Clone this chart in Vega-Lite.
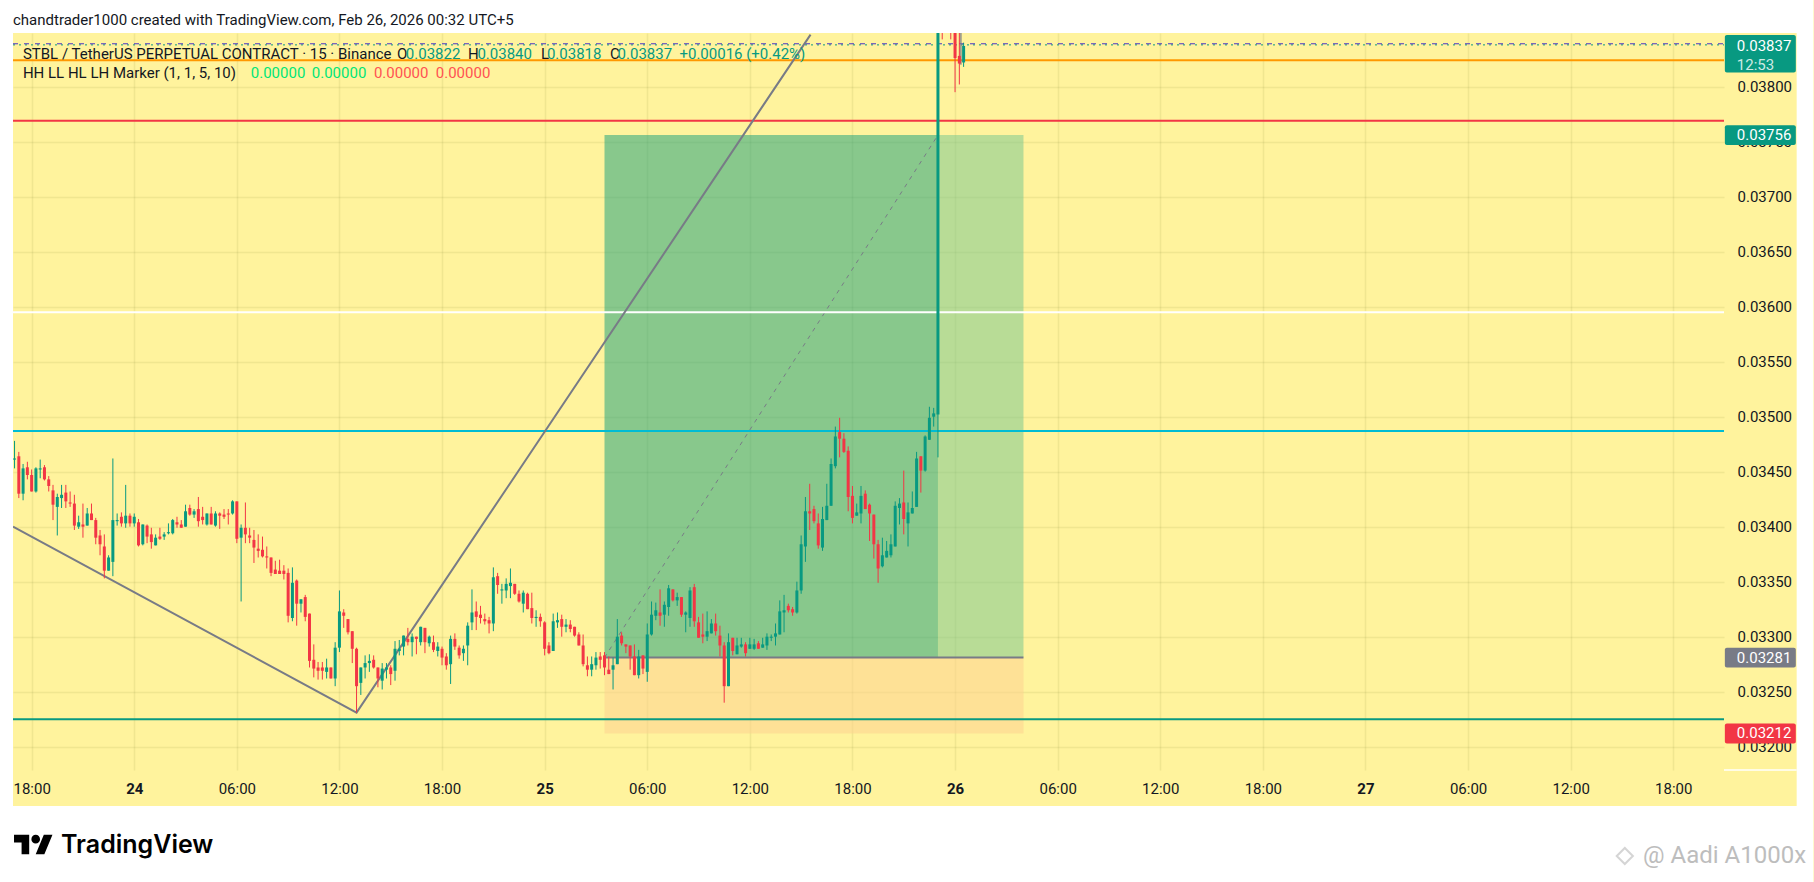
{
  "$schema": "https://vega.github.io/schema/vega-lite/v6.json",
  "width": 1711,
  "height": 737,
  "autosize": "none",
  "padding": {"left": 13, "top": 33, "right": 90, "bottom": 112},
  "background": "#fff39d",
  "view": {"stroke": null},
  "datasets": {
    "zones": [
      {"t": "2026-02-25T03:30:00Z", "t2": "2026-02-25T23:00:00Z", "p": 0.03281, "p2": 0.03756, "zone": "profit"},
      {"t": "2026-02-25T23:00:00Z", "t2": "2026-02-26T04:00:00Z", "p": 0.03281, "p2": 0.03756, "zone": "profit after"},
      {"t": "2026-02-25T03:30:00Z", "t2": "2026-02-26T04:00:00Z", "p": 0.03212, "p2": 0.03281, "zone": "stop"}
    ],
    "levels": [
      {"t": "2026-02-23T16:54:36Z", "t2": "2026-02-27T20:58:00Z", "p": 0.03824, "level": "orange"},
      {"t": "2026-02-23T16:54:36Z", "t2": "2026-02-27T20:58:00Z", "p": 0.03769, "level": "red"},
      {"t": "2026-02-23T16:54:36Z", "t2": "2026-02-27T20:58:00Z", "p": 0.03595, "level": "white"},
      {"t": "2026-02-23T16:54:36Z", "t2": "2026-02-27T20:58:00Z", "p": 0.03487, "level": "cyan"},
      {"t": "2026-02-23T16:54:36Z", "t2": "2026-02-27T20:58:00Z", "p": 0.03225, "level": "green"},
      {"t": "2026-02-25T03:30:00Z", "t2": "2026-02-26T04:00:00Z", "p": 0.03281, "level": "entry"}
    ],
    "candles": [
      {"t":"2026-02-23T17:00:00Z","o":0.03461,"h":0.03478,"l":0.03453,"c":0.03462},
      {"t":"2026-02-23T17:15:00Z","o":0.03464,"h":0.03468,"l":0.03426,"c":0.0343},
      {"t":"2026-02-23T17:30:00Z","o":0.0343,"h":0.03457,"l":0.03424,"c":0.03453},
      {"t":"2026-02-23T17:45:00Z","o":0.03454,"h":0.03459,"l":0.03443,"c":0.03447},
      {"t":"2026-02-23T18:00:00Z","o":0.03447,"h":0.03452,"l":0.03432,"c":0.03432},
      {"t":"2026-02-23T18:15:00Z","o":0.03432,"h":0.03454,"l":0.03431,"c":0.03453},
      {"t":"2026-02-23T18:30:00Z","o":0.03452,"h":0.03461,"l":0.03444,"c":0.03453},
      {"t":"2026-02-23T18:45:00Z","o":0.03454,"h":0.03456,"l":0.03442,"c":0.03443},
      {"t":"2026-02-23T19:00:00Z","o":0.03443,"h":0.03446,"l":0.03432,"c":0.03437},
      {"t":"2026-02-23T19:15:00Z","o":0.03433,"h":0.03438,"l":0.03406,"c":0.0342},
      {"t":"2026-02-23T19:30:00Z","o":0.03418,"h":0.0343,"l":0.03392,"c":0.03427},
      {"t":"2026-02-23T19:45:00Z","o":0.03426,"h":0.03438,"l":0.03417,"c":0.03429},
      {"t":"2026-02-23T20:00:00Z","o":0.03431,"h":0.03438,"l":0.03417,"c":0.03423},
      {"t":"2026-02-23T20:15:00Z","o":0.03422,"h":0.03432,"l":0.03418,"c":0.03421},
      {"t":"2026-02-23T20:30:00Z","o":0.03421,"h":0.03429,"l":0.03397,"c":0.03401},
      {"t":"2026-02-23T20:45:00Z","o":0.034,"h":0.0341,"l":0.03398,"c":0.03404},
      {"t":"2026-02-23T21:00:00Z","o":0.03402,"h":0.03421,"l":0.0339,"c":0.034},
      {"t":"2026-02-23T21:15:00Z","o":0.03401,"h":0.03417,"l":0.03401,"c":0.03412},
      {"t":"2026-02-23T21:30:00Z","o":0.03412,"h":0.03421,"l":0.03406,"c":0.03406},
      {"t":"2026-02-23T21:45:00Z","o":0.03406,"h":0.03408,"l":0.03384,"c":0.0339},
      {"t":"2026-02-23T22:00:00Z","o":0.03392,"h":0.03397,"l":0.03374,"c":0.03384},
      {"t":"2026-02-23T22:15:00Z","o":0.03382,"h":0.03393,"l":0.03353,"c":0.0336},
      {"t":"2026-02-23T22:30:00Z","o":0.0336,"h":0.03374,"l":0.0336,"c":0.03372},
      {"t":"2026-02-23T22:45:00Z","o":0.03368,"h":0.03462,"l":0.03355,"c":0.03406},
      {"t":"2026-02-23T23:00:00Z","o":0.03405,"h":0.03412,"l":0.03401,"c":0.03406},
      {"t":"2026-02-23T23:15:00Z","o":0.03409,"h":0.03413,"l":0.034,"c":0.03403},
      {"t":"2026-02-23T23:30:00Z","o":0.03403,"h":0.03438,"l":0.03399,"c":0.0341},
      {"t":"2026-02-23T23:45:00Z","o":0.0341,"h":0.03412,"l":0.034,"c":0.03403},
      {"t":"2026-02-24T00:00:00Z","o":0.03403,"h":0.03412,"l":0.034,"c":0.03409},
      {"t":"2026-02-24T00:15:00Z","o":0.03404,"h":0.03407,"l":0.03382,"c":0.03383},
      {"t":"2026-02-24T00:30:00Z","o":0.03384,"h":0.03402,"l":0.03383,"c":0.03402},
      {"t":"2026-02-24T00:45:00Z","o":0.03401,"h":0.03402,"l":0.03385,"c":0.03391},
      {"t":"2026-02-24T01:00:00Z","o":0.03393,"h":0.03399,"l":0.0338,"c":0.03386},
      {"t":"2026-02-24T01:15:00Z","o":0.03383,"h":0.03393,"l":0.03383,"c":0.0339},
      {"t":"2026-02-24T01:30:00Z","o":0.03391,"h":0.03399,"l":0.03388,"c":0.03389},
      {"t":"2026-02-24T01:45:00Z","o":0.03391,"h":0.03395,"l":0.03388,"c":0.03393},
      {"t":"2026-02-24T02:00:00Z","o":0.03394,"h":0.03403,"l":0.03393,"c":0.03395},
      {"t":"2026-02-24T02:15:00Z","o":0.03394,"h":0.03407,"l":0.03393,"c":0.03406},
      {"t":"2026-02-24T02:30:00Z","o":0.03404,"h":0.03409,"l":0.03399,"c":0.03402},
      {"t":"2026-02-24T02:45:00Z","o":0.03402,"h":0.03406,"l":0.03399,"c":0.03399},
      {"t":"2026-02-24T03:00:00Z","o":0.034,"h":0.0342,"l":0.034,"c":0.03414},
      {"t":"2026-02-24T03:15:00Z","o":0.03417,"h":0.0342,"l":0.0341,"c":0.03411},
      {"t":"2026-02-24T03:30:00Z","o":0.03411,"h":0.03416,"l":0.03408,"c":0.03414},
      {"t":"2026-02-24T03:45:00Z","o":0.03416,"h":0.03427,"l":0.034,"c":0.03405},
      {"t":"2026-02-24T04:00:00Z","o":0.03409,"h":0.03418,"l":0.03402,"c":0.03406},
      {"t":"2026-02-24T04:15:00Z","o":0.03402,"h":0.03412,"l":0.03401,"c":0.03412},
      {"t":"2026-02-24T04:30:00Z","o":0.03412,"h":0.03418,"l":0.03402,"c":0.03402},
      {"t":"2026-02-24T04:45:00Z","o":0.03401,"h":0.03414,"l":0.034,"c":0.03412},
      {"t":"2026-02-24T05:00:00Z","o":0.03412,"h":0.03413,"l":0.03398,"c":0.0341},
      {"t":"2026-02-24T05:15:00Z","o":0.03411,"h":0.03416,"l":0.03407,"c":0.03409},
      {"t":"2026-02-24T05:30:00Z","o":0.03412,"h":0.03416,"l":0.03402,"c":0.03411},
      {"t":"2026-02-24T05:45:00Z","o":0.03412,"h":0.03424,"l":0.03411,"c":0.03423},
      {"t":"2026-02-24T06:00:00Z","o":0.03423,"h":0.03423,"l":0.03385,"c":0.03389},
      {"t":"2026-02-24T06:15:00Z","o":0.0339,"h":0.03402,"l":0.03332,"c":0.03399},
      {"t":"2026-02-24T06:30:00Z","o":0.03399,"h":0.03422,"l":0.03385,"c":0.03393},
      {"t":"2026-02-24T06:45:00Z","o":0.03392,"h":0.03399,"l":0.03385,"c":0.0339},
      {"t":"2026-02-24T07:00:00Z","o":0.03388,"h":0.03397,"l":0.03367,"c":0.03381},
      {"t":"2026-02-24T07:15:00Z","o":0.0338,"h":0.03393,"l":0.03372,"c":0.03378},
      {"t":"2026-02-24T07:30:00Z","o":0.03379,"h":0.03391,"l":0.03372,"c":0.03373},
      {"t":"2026-02-24T07:45:00Z","o":0.03373,"h":0.03382,"l":0.03362,"c":0.03372},
      {"t":"2026-02-24T08:00:00Z","o":0.03372,"h":0.03372,"l":0.03355,"c":0.03358},
      {"t":"2026-02-24T08:15:00Z","o":0.03361,"h":0.03369,"l":0.03357,"c":0.03357},
      {"t":"2026-02-24T08:30:00Z","o":0.0336,"h":0.0337,"l":0.03357,"c":0.03357},
      {"t":"2026-02-24T08:45:00Z","o":0.0336,"h":0.03365,"l":0.03352,"c":0.03357},
      {"t":"2026-02-24T09:00:00Z","o":0.03358,"h":0.03362,"l":0.03313,"c":0.03319},
      {"t":"2026-02-24T09:15:00Z","o":0.03317,"h":0.03363,"l":0.03314,"c":0.03349},
      {"t":"2026-02-24T09:30:00Z","o":0.03351,"h":0.03352,"l":0.0331,"c":0.0333},
      {"t":"2026-02-24T09:45:00Z","o":0.0333,"h":0.03334,"l":0.03322,"c":0.03334},
      {"t":"2026-02-24T10:00:00Z","o":0.03336,"h":0.03338,"l":0.03314,"c":0.03318},
      {"t":"2026-02-24T10:15:00Z","o":0.03321,"h":0.03321,"l":0.03272,"c":0.03278},
      {"t":"2026-02-24T10:30:00Z","o":0.03279,"h":0.03293,"l":0.03263,"c":0.03271},
      {"t":"2026-02-24T10:45:00Z","o":0.03272,"h":0.03277,"l":0.03261,"c":0.03269},
      {"t":"2026-02-24T11:00:00Z","o":0.03272,"h":0.03277,"l":0.03261,"c":0.03269},
      {"t":"2026-02-24T11:15:00Z","o":0.03268,"h":0.0328,"l":0.03262,"c":0.03272},
      {"t":"2026-02-24T11:30:00Z","o":0.03272,"h":0.03272,"l":0.03262,"c":0.03262},
      {"t":"2026-02-24T11:45:00Z","o":0.03262,"h":0.03295,"l":0.03255,"c":0.0329},
      {"t":"2026-02-24T12:00:00Z","o":0.0329,"h":0.03342,"l":0.03286,"c":0.03323},
      {"t":"2026-02-24T12:15:00Z","o":0.03322,"h":0.03325,"l":0.03308,"c":0.03319},
      {"t":"2026-02-24T12:30:00Z","o":0.03316,"h":0.03316,"l":0.03302,"c":0.03304},
      {"t":"2026-02-24T12:45:00Z","o":0.03305,"h":0.03305,"l":0.03276,"c":0.03289},
      {"t":"2026-02-24T13:00:00Z","o":0.03289,"h":0.0329,"l":0.03231,"c":0.03255},
      {"t":"2026-02-24T13:15:00Z","o":0.03258,"h":0.03272,"l":0.03247,"c":0.03272},
      {"t":"2026-02-24T13:30:00Z","o":0.03272,"h":0.03283,"l":0.03262,"c":0.03276},
      {"t":"2026-02-24T13:45:00Z","o":0.03276,"h":0.03284,"l":0.03268,"c":0.03278},
      {"t":"2026-02-24T14:00:00Z","o":0.03279,"h":0.03283,"l":0.03271,"c":0.03272},
      {"t":"2026-02-24T14:15:00Z","o":0.03272,"h":0.03272,"l":0.03254,"c":0.03262},
      {"t":"2026-02-24T14:30:00Z","o":0.0326,"h":0.03276,"l":0.03252,"c":0.03271},
      {"t":"2026-02-24T14:45:00Z","o":0.0327,"h":0.03276,"l":0.03262,"c":0.03272},
      {"t":"2026-02-24T15:00:00Z","o":0.03272,"h":0.03274,"l":0.03256,"c":0.03266},
      {"t":"2026-02-24T15:15:00Z","o":0.03269,"h":0.03296,"l":0.0326,"c":0.03289},
      {"t":"2026-02-24T15:30:00Z","o":0.03287,"h":0.03297,"l":0.03283,"c":0.03289},
      {"t":"2026-02-24T15:45:00Z","o":0.03291,"h":0.03301,"l":0.03283,"c":0.03301},
      {"t":"2026-02-24T16:00:00Z","o":0.03298,"h":0.03308,"l":0.03292,"c":0.03295},
      {"t":"2026-02-24T16:15:00Z","o":0.03295,"h":0.03303,"l":0.03282,"c":0.033},
      {"t":"2026-02-24T16:30:00Z","o":0.033,"h":0.033,"l":0.03284,"c":0.03298},
      {"t":"2026-02-24T16:45:00Z","o":0.03295,"h":0.03309,"l":0.03292,"c":0.03309},
      {"t":"2026-02-24T17:00:00Z","o":0.03308,"h":0.03308,"l":0.03285,"c":0.03295},
      {"t":"2026-02-24T17:15:00Z","o":0.03294,"h":0.03301,"l":0.03291,"c":0.033},
      {"t":"2026-02-24T17:30:00Z","o":0.03295,"h":0.03301,"l":0.03286,"c":0.03288},
      {"t":"2026-02-24T17:45:00Z","o":0.03287,"h":0.03295,"l":0.03282,"c":0.03291},
      {"t":"2026-02-24T18:00:00Z","o":0.03289,"h":0.03291,"l":0.03274,"c":0.03281},
      {"t":"2026-02-24T18:15:00Z","o":0.03282,"h":0.03285,"l":0.0327,"c":0.03274},
      {"t":"2026-02-24T18:30:00Z","o":0.03275,"h":0.03301,"l":0.03257,"c":0.03298},
      {"t":"2026-02-24T18:45:00Z","o":0.03298,"h":0.03303,"l":0.03288,"c":0.03291},
      {"t":"2026-02-24T19:00:00Z","o":0.0329,"h":0.03292,"l":0.0328,"c":0.03283},
      {"t":"2026-02-24T19:15:00Z","o":0.03285,"h":0.03292,"l":0.03278,"c":0.03289},
      {"t":"2026-02-24T19:30:00Z","o":0.03292,"h":0.03313,"l":0.03274,"c":0.0331},
      {"t":"2026-02-24T19:45:00Z","o":0.03313,"h":0.03343,"l":0.03306,"c":0.03322},
      {"t":"2026-02-24T20:00:00Z","o":0.03323,"h":0.03332,"l":0.03306,"c":0.03318},
      {"t":"2026-02-24T20:15:00Z","o":0.0332,"h":0.03328,"l":0.03312,"c":0.03317},
      {"t":"2026-02-24T20:30:00Z","o":0.03316,"h":0.03321,"l":0.03311,"c":0.03314},
      {"t":"2026-02-24T20:45:00Z","o":0.03315,"h":0.03318,"l":0.03303,"c":0.03312},
      {"t":"2026-02-24T21:00:00Z","o":0.03312,"h":0.03363,"l":0.03305,"c":0.03354},
      {"t":"2026-02-24T21:15:00Z","o":0.03355,"h":0.03358,"l":0.03339,"c":0.03347},
      {"t":"2026-02-24T21:30:00Z","o":0.03342,"h":0.03348,"l":0.0333,"c":0.03343},
      {"t":"2026-02-24T21:45:00Z","o":0.03342,"h":0.03353,"l":0.03335,"c":0.03348},
      {"t":"2026-02-24T22:00:00Z","o":0.03346,"h":0.03362,"l":0.03335,"c":0.03349},
      {"t":"2026-02-24T22:15:00Z","o":0.03348,"h":0.03348,"l":0.03338,"c":0.03339},
      {"t":"2026-02-24T22:30:00Z","o":0.03339,"h":0.03342,"l":0.03331,"c":0.03332},
      {"t":"2026-02-24T22:45:00Z","o":0.0333,"h":0.03342,"l":0.03322,"c":0.0334},
      {"t":"2026-02-24T23:00:00Z","o":0.03339,"h":0.0334,"l":0.03325,"c":0.03325},
      {"t":"2026-02-24T23:15:00Z","o":0.03326,"h":0.0334,"l":0.03312,"c":0.03317},
      {"t":"2026-02-24T23:30:00Z","o":0.03317,"h":0.03324,"l":0.03309,"c":0.03318},
      {"t":"2026-02-24T23:45:00Z","o":0.03318,"h":0.03321,"l":0.03309,"c":0.03314},
      {"t":"2026-02-25T00:00:00Z","o":0.03313,"h":0.03314,"l":0.03283,"c":0.03289},
      {"t":"2026-02-25T00:15:00Z","o":0.03292,"h":0.03295,"l":0.03284,"c":0.03285},
      {"t":"2026-02-25T00:30:00Z","o":0.03287,"h":0.03321,"l":0.03287,"c":0.03314},
      {"t":"2026-02-25T00:45:00Z","o":0.03313,"h":0.03322,"l":0.03308,"c":0.03315},
      {"t":"2026-02-25T01:00:00Z","o":0.03316,"h":0.0332,"l":0.033,"c":0.03309},
      {"t":"2026-02-25T01:15:00Z","o":0.03309,"h":0.03316,"l":0.03304,"c":0.03311},
      {"t":"2026-02-25T01:30:00Z","o":0.03311,"h":0.03315,"l":0.03304,"c":0.03307},
      {"t":"2026-02-25T01:45:00Z","o":0.03309,"h":0.03309,"l":0.033,"c":0.03301},
      {"t":"2026-02-25T02:00:00Z","o":0.03302,"h":0.03304,"l":0.03292,"c":0.03292},
      {"t":"2026-02-25T02:15:00Z","o":0.03292,"h":0.03302,"l":0.03273,"c":0.03275},
      {"t":"2026-02-25T02:30:00Z","o":0.03274,"h":0.03282,"l":0.03264,"c":0.0327},
      {"t":"2026-02-25T02:45:00Z","o":0.0327,"h":0.03282,"l":0.03264,"c":0.03275},
      {"t":"2026-02-25T03:00:00Z","o":0.03274,"h":0.03286,"l":0.0327,"c":0.03281},
      {"t":"2026-02-25T03:15:00Z","o":0.03282,"h":0.03286,"l":0.03271,"c":0.03279},
      {"t":"2026-02-25T03:30:00Z","o":0.03283,"h":0.03286,"l":0.03265,"c":0.03272},
      {"t":"2026-02-25T03:45:00Z","o":0.0327,"h":0.03282,"l":0.03266,"c":0.03266},
      {"t":"2026-02-25T04:00:00Z","o":0.0327,"h":0.03281,"l":0.03252,"c":0.03274},
      {"t":"2026-02-25T04:15:00Z","o":0.03275,"h":0.03316,"l":0.03275,"c":0.033},
      {"t":"2026-02-25T04:30:00Z","o":0.03301,"h":0.03304,"l":0.03292,"c":0.03294},
      {"t":"2026-02-25T04:45:00Z","o":0.03293,"h":0.03293,"l":0.03285,"c":0.03291},
      {"t":"2026-02-25T05:00:00Z","o":0.03292,"h":0.03292,"l":0.0327,"c":0.03282},
      {"t":"2026-02-25T05:15:00Z","o":0.03282,"h":0.03293,"l":0.03265,"c":0.03265},
      {"t":"2026-02-25T05:30:00Z","o":0.03265,"h":0.03288,"l":0.03262,"c":0.03282},
      {"t":"2026-02-25T05:45:00Z","o":0.03283,"h":0.03283,"l":0.03266,"c":0.03271},
      {"t":"2026-02-25T06:00:00Z","o":0.03268,"h":0.03312,"l":0.03259,"c":0.03302},
      {"t":"2026-02-25T06:15:00Z","o":0.03302,"h":0.03332,"l":0.03301,"c":0.0332},
      {"t":"2026-02-25T06:30:00Z","o":0.03319,"h":0.03331,"l":0.03315,"c":0.03324},
      {"t":"2026-02-25T06:45:00Z","o":0.03322,"h":0.03343,"l":0.0331,"c":0.03319},
      {"t":"2026-02-25T07:00:00Z","o":0.0332,"h":0.03332,"l":0.03309,"c":0.03329},
      {"t":"2026-02-25T07:15:00Z","o":0.03327,"h":0.03347,"l":0.03319,"c":0.03344},
      {"t":"2026-02-25T07:30:00Z","o":0.03343,"h":0.03343,"l":0.03332,"c":0.03333},
      {"t":"2026-02-25T07:45:00Z","o":0.03333,"h":0.0334,"l":0.03328,"c":0.03336},
      {"t":"2026-02-25T08:00:00Z","o":0.03336,"h":0.03336,"l":0.03318,"c":0.0332},
      {"t":"2026-02-25T08:15:00Z","o":0.0332,"h":0.03323,"l":0.03304,"c":0.03322},
      {"t":"2026-02-25T08:30:00Z","o":0.03317,"h":0.03345,"l":0.03309,"c":0.03342},
      {"t":"2026-02-25T08:45:00Z","o":0.03345,"h":0.03348,"l":0.03309,"c":0.03314},
      {"t":"2026-02-25T09:00:00Z","o":0.03313,"h":0.03318,"l":0.03299,"c":0.03299},
      {"t":"2026-02-25T09:15:00Z","o":0.03302,"h":0.03321,"l":0.03294,"c":0.033},
      {"t":"2026-02-25T09:30:00Z","o":0.033,"h":0.03323,"l":0.03296,"c":0.03305},
      {"t":"2026-02-25T09:45:00Z","o":0.03303,"h":0.03316,"l":0.03303,"c":0.03312},
      {"t":"2026-02-25T10:00:00Z","o":0.03312,"h":0.03321,"l":0.03301,"c":0.03305},
      {"t":"2026-02-25T10:15:00Z","o":0.03301,"h":0.0331,"l":0.03282,"c":0.03292},
      {"t":"2026-02-25T10:30:00Z","o":0.03292,"h":0.03295,"l":0.0324,"c":0.03255},
      {"t":"2026-02-25T10:45:00Z","o":0.03255,"h":0.03303,"l":0.03255,"c":0.03295},
      {"t":"2026-02-25T11:00:00Z","o":0.03299,"h":0.03299,"l":0.03283,"c":0.03287},
      {"t":"2026-02-25T11:15:00Z","o":0.03284,"h":0.03299,"l":0.03284,"c":0.03292},
      {"t":"2026-02-25T11:30:00Z","o":0.03291,"h":0.03299,"l":0.0329,"c":0.03293},
      {"t":"2026-02-25T11:45:00Z","o":0.03293,"h":0.03295,"l":0.03282,"c":0.03285},
      {"t":"2026-02-25T12:00:00Z","o":0.03289,"h":0.03299,"l":0.03289,"c":0.03293},
      {"t":"2026-02-25T12:15:00Z","o":0.03289,"h":0.03298,"l":0.03288,"c":0.03293},
      {"t":"2026-02-25T12:30:00Z","o":0.03294,"h":0.03296,"l":0.03289,"c":0.03289},
      {"t":"2026-02-25T12:45:00Z","o":0.0329,"h":0.03299,"l":0.0329,"c":0.03293},
      {"t":"2026-02-25T13:00:00Z","o":0.03292,"h":0.03303,"l":0.03288,"c":0.033},
      {"t":"2026-02-25T13:15:00Z","o":0.03299,"h":0.03302,"l":0.03296,"c":0.033},
      {"t":"2026-02-25T13:30:00Z","o":0.033,"h":0.03312,"l":0.03292,"c":0.03303},
      {"t":"2026-02-25T13:45:00Z","o":0.03302,"h":0.03333,"l":0.03302,"c":0.03323},
      {"t":"2026-02-25T14:00:00Z","o":0.03322,"h":0.03338,"l":0.03304,"c":0.03324},
      {"t":"2026-02-25T14:15:00Z","o":0.03328,"h":0.0333,"l":0.03322,"c":0.03324},
      {"t":"2026-02-25T14:30:00Z","o":0.03325,"h":0.03327,"l":0.03319,"c":0.03322},
      {"t":"2026-02-25T14:45:00Z","o":0.03322,"h":0.0335,"l":0.03321,"c":0.03342},
      {"t":"2026-02-25T15:00:00Z","o":0.03342,"h":0.03392,"l":0.03339,"c":0.03384},
      {"t":"2026-02-25T15:15:00Z","o":0.03382,"h":0.03427,"l":0.03368,"c":0.03414},
      {"t":"2026-02-25T15:30:00Z","o":0.03414,"h":0.03439,"l":0.03397,"c":0.03412},
      {"t":"2026-02-25T15:45:00Z","o":0.03416,"h":0.03419,"l":0.03403,"c":0.03405},
      {"t":"2026-02-25T16:00:00Z","o":0.03403,"h":0.03412,"l":0.0338,"c":0.03383},
      {"t":"2026-02-25T16:15:00Z","o":0.03381,"h":0.03418,"l":0.03378,"c":0.03407},
      {"t":"2026-02-25T16:30:00Z","o":0.03406,"h":0.03439,"l":0.03406,"c":0.03419},
      {"t":"2026-02-25T16:45:00Z","o":0.03419,"h":0.03462,"l":0.03419,"c":0.03457},
      {"t":"2026-02-25T17:00:00Z","o":0.03455,"h":0.03491,"l":0.03453,"c":0.03482},
      {"t":"2026-02-25T17:15:00Z","o":0.03486,"h":0.03499,"l":0.03463,"c":0.0348},
      {"t":"2026-02-25T17:30:00Z","o":0.0348,"h":0.03485,"l":0.03467,"c":0.03468},
      {"t":"2026-02-25T17:45:00Z","o":0.03469,"h":0.03473,"l":0.03414,"c":0.03427},
      {"t":"2026-02-25T18:00:00Z","o":0.03428,"h":0.03437,"l":0.03403,"c":0.03408},
      {"t":"2026-02-25T18:15:00Z","o":0.0341,"h":0.03421,"l":0.0341,"c":0.03413},
      {"t":"2026-02-25T18:30:00Z","o":0.03412,"h":0.03437,"l":0.03403,"c":0.03428},
      {"t":"2026-02-25T18:45:00Z","o":0.0343,"h":0.03433,"l":0.03416,"c":0.03416},
      {"t":"2026-02-25T19:00:00Z","o":0.0342,"h":0.03421,"l":0.03387,"c":0.03412},
      {"t":"2026-02-25T19:15:00Z","o":0.03411,"h":0.03411,"l":0.03371,"c":0.03384},
      {"t":"2026-02-25T19:30:00Z","o":0.03384,"h":0.03388,"l":0.03349,"c":0.03362},
      {"t":"2026-02-25T19:45:00Z","o":0.03364,"h":0.0339,"l":0.03363,"c":0.03374},
      {"t":"2026-02-25T20:00:00Z","o":0.03372,"h":0.03387,"l":0.03372,"c":0.03378},
      {"t":"2026-02-25T20:15:00Z","o":0.03374,"h":0.03393,"l":0.03372,"c":0.03384},
      {"t":"2026-02-25T20:30:00Z","o":0.03382,"h":0.03423,"l":0.03382,"c":0.03419},
      {"t":"2026-02-25T20:45:00Z","o":0.03417,"h":0.03426,"l":0.03402,"c":0.03421},
      {"t":"2026-02-25T21:00:00Z","o":0.03422,"h":0.03451,"l":0.03393,"c":0.03407},
      {"t":"2026-02-25T21:15:00Z","o":0.03403,"h":0.03422,"l":0.03382,"c":0.03413},
      {"t":"2026-02-25T21:30:00Z","o":0.03412,"h":0.03432,"l":0.03412,"c":0.03417},
      {"t":"2026-02-25T21:45:00Z","o":0.03418,"h":0.03468,"l":0.03418,"c":0.03462},
      {"t":"2026-02-25T22:00:00Z","o":0.03464,"h":0.03464,"l":0.03431,"c":0.03451},
      {"t":"2026-02-25T22:15:00Z","o":0.03451,"h":0.03483,"l":0.0345,"c":0.03482},
      {"t":"2026-02-25T22:30:00Z","o":0.03479,"h":0.03509,"l":0.03479,"c":0.03499},
      {"t":"2026-02-25T22:45:00Z","o":0.035,"h":0.03508,"l":0.03491,"c":0.03503},
      {"t":"2026-02-25T23:00:00Z","o":0.03502,"h":0.03925,"l":0.03463,"c":0.0392},
      {"t":"2026-02-25T23:15:00Z","o":0.0396,"h":0.0397,"l":0.03843,"c":0.039},
      {"t":"2026-02-25T23:30:00Z","o":0.039,"h":0.0398,"l":0.0388,"c":0.0396},
      {"t":"2026-02-25T23:45:00Z","o":0.0395,"h":0.0397,"l":0.03843,"c":0.0389},
      {"t":"2026-02-26T00:00:00Z","o":0.039,"h":0.0392,"l":0.03795,"c":0.03826},
      {"t":"2026-02-26T00:15:00Z","o":0.03828,"h":0.0386,"l":0.03802,"c":0.03821},
      {"t":"2026-02-26T00:30:00Z","o":0.03822,"h":0.0384,"l":0.03818,"c":0.03837}
    ],
    "frame": [
      {"t": "2026-02-23T16:08:48Z", "t2": "2026-02-28T02:12:00Z", "p": 0.038788, "p2": 0.038488},
      {"t": "2026-02-23T16:08:48Z", "t2": "2026-02-28T02:12:00Z", "p": 0.031461, "p2": 0.03077},
      {"t": "2026-02-23T16:08:48Z", "t2": "2026-02-23T16:54:36Z", "p": 0.038488, "p2": 0.031461},
      {"t": "2026-02-28T01:13:00Z", "t2": "2026-02-28T02:12:00Z", "p": 0.038488, "p2": 0.031461}
    ],
    "tags": [
      {"t": "2026-02-27T21:01:00Z", "t2": "2026-02-28T01:10:00Z", "p": 0.03847, "p2": 0.03813, "tag": "last"},
      {"t": "2026-02-27T21:01:00Z", "t2": "2026-02-28T01:10:00Z", "p": 0.03765, "p2": 0.03747, "tag": "target"},
      {"t": "2026-02-27T21:01:00Z", "t2": "2026-02-28T01:10:00Z", "p": 0.0329, "p2": 0.03272, "tag": "entry"},
      {"t": "2026-02-27T21:01:00Z", "t2": "2026-02-28T01:10:00Z", "p": 0.03221, "p2": 0.03203, "tag": "stop"}
    ],
    "texts": [
      {"t": "2026-02-23T16:54:36Z", "p": 0.038606, "label": "chandtrader1000 created with TradingView.com, Feb 26, 2026 00:32 UTC+5", "role": "ink"},
      {"t": "2026-02-23T17:29:24Z", "p": 0.0383, "label": "STBL / TetherUS PERPETUAL CONTRACT · 15 · Binance", "role": "ink"},
      {"t": "2026-02-24T15:21:36Z", "p": 0.0383, "label": "O", "role": "ink"},
      {"t": "2026-02-24T15:53:00Z", "p": 0.0383, "label": "0.03822", "role": "up"},
      {"t": "2026-02-24T19:31:00Z", "p": 0.0383, "label": "H", "role": "ink"},
      {"t": "2026-02-24T20:04:00Z", "p": 0.0383, "label": "0.03840", "role": "up"},
      {"t": "2026-02-24T23:47:00Z", "p": 0.0383, "label": "L", "role": "ink"},
      {"t": "2026-02-25T00:08:00Z", "p": 0.0383, "label": "0.03818", "role": "up"},
      {"t": "2026-02-25T03:49:00Z", "p": 0.0383, "label": "C", "role": "ink"},
      {"t": "2026-02-25T04:16:00Z", "p": 0.0383, "label": "0.03837", "role": "up"},
      {"t": "2026-02-25T07:53:00Z", "p": 0.0383, "label": "+0.00016 (+0.42%)", "role": "up"},
      {"t": "2026-02-23T17:29:24Z", "p": 0.03812, "label": "HH LL HL LH Marker (1, 1, 5, 10)", "role": "ink"},
      {"t": "2026-02-24T06:49:00Z", "p": 0.03812, "label": "0.00000", "role": "lime"},
      {"t": "2026-02-24T10:23:00Z", "p": 0.03812, "label": "0.00000", "role": "lime"},
      {"t": "2026-02-24T14:01:00Z", "p": 0.03812, "label": "0.00000", "role": "rose"},
      {"t": "2026-02-24T17:38:00Z", "p": 0.03812, "label": "0.00000", "role": "rose"},
      {"t": "2026-02-27T21:43:00Z", "p": 0.03837, "label": "0.03837", "role": "white"},
      {"t": "2026-02-27T21:43:00Z", "p": 0.0382, "label": "12:53", "role": "pale"},
      {"t": "2026-02-27T21:43:00Z", "p": 0.03756, "label": "0.03756", "role": "white"},
      {"t": "2026-02-27T21:43:00Z", "p": 0.03281, "label": "0.03281", "role": "white"},
      {"t": "2026-02-27T21:43:00Z", "p": 0.03212, "label": "0.03212", "role": "white"}
    ]
  },
  "encoding": {
    "x": {
      "field": "t",
      "type": "temporal",
      "title": null,
      "scale": {"type": "utc", "padding": 0, "domain": ["2026-02-23T16:54:36Z", "2026-02-27T20:58:00Z"]},
      "axis": {
        "values": [
          {"year": 2026, "month": 2, "date": 23, "hours": 18, "utc": true},
          {"year": 2026, "month": 2, "date": 24, "hours": 0, "utc": true},
          {"year": 2026, "month": 2, "date": 24, "hours": 6, "utc": true},
          {"year": 2026, "month": 2, "date": 24, "hours": 12, "utc": true},
          {"year": 2026, "month": 2, "date": 24, "hours": 18, "utc": true},
          {"year": 2026, "month": 2, "date": 25, "hours": 0, "utc": true},
          {"year": 2026, "month": 2, "date": 25, "hours": 6, "utc": true},
          {"year": 2026, "month": 2, "date": 25, "hours": 12, "utc": true},
          {"year": 2026, "month": 2, "date": 25, "hours": 18, "utc": true},
          {"year": 2026, "month": 2, "date": 26, "hours": 0, "utc": true},
          {"year": 2026, "month": 2, "date": 26, "hours": 6, "utc": true},
          {"year": 2026, "month": 2, "date": 26, "hours": 12, "utc": true},
          {"year": 2026, "month": 2, "date": 26, "hours": 18, "utc": true},
          {"year": 2026, "month": 2, "date": 27, "hours": 0, "utc": true},
          {"year": 2026, "month": 2, "date": 27, "hours": 6, "utc": true},
          {"year": 2026, "month": 2, "date": 27, "hours": 12, "utc": true},
          {"year": 2026, "month": 2, "date": 27, "hours": 18, "utc": true}
        ],
        "labelExpr": "utchours(datum.value) == 0 ? utcdate(datum.value) : utcFormat(datum.value, '%H:%M')",
        "labelFontWeight": {"condition": {"test": "utchours(datum.value) == 0", "value": "bold"}, "value": "normal"},
        "labelFont": "Roboto",
        "labelFontSize": 15,
        "labelColor": "#131722",
        "labelPadding": 11,
        "labelOverlap": false,
        "labelFlush": false,
        "domain": false,
        "ticks": false,
        "grid": true,
        "gridColor": "#787b30",
        "gridOpacity": 0.11,
        "gridWidth": 1.5
      }
    },
    "y": {
      "field": "p",
      "type": "quantitative",
      "title": null,
      "scale": {"domain": [0.031788, 0.038488], "nice": false, "zero": false},
      "axis": {
        "orient": "right",
        "values": [0.032, 0.0325, 0.033, 0.0335, 0.034, 0.0345, 0.035, 0.0355, 0.036, 0.0365, 0.037, 0.0375, 0.038],
        "format": ".5f",
        "labelFont": "Roboto",
        "labelFontSize": 15,
        "labelColor": "#131722",
        "labelPadding": 13,
        "domain": false,
        "ticks": false,
        "grid": true,
        "gridColor": "#787b30",
        "gridOpacity": 0.11,
        "gridWidth": 1.5
      }
    }
  },
  "resolve": {"scale": {"color": "independent", "fill": "independent"}},
  "layer": [
    {
      "data": {"name": "zones"},
      "mark": {"type": "rect", "clip": true, "opacity": 0.5},
      "encoding": {
        "x2": {"field": "t2"},
        "y2": {"field": "p2"},
        "fill": {
          "field": "zone",
          "type": "nominal",
          "legend": null,
          "scale": {"domain": ["profit", "profit after", "stop"], "range": ["#119d7b", "#71c58f", "#fdcf8f"]}
        }
      }
    },
    {
      "data": {"values": [
        {"t": "2026-02-25T03:30:00Z", "p": 0.03281},
        {"t": "2026-02-25T23:00:00Z", "p": 0.03756}
      ]},
      "mark": {"type": "line", "stroke": "#787b86", "strokeWidth": 1, "strokeDash": [4, 5], "clip": true},
      "encoding": {}
    },
    {
      "data": {"name": "levels"},
      "mark": {"type": "rule", "clip": true},
      "encoding": {
        "x2": {"field": "t2"},
        "color": {
          "field": "level",
          "type": "nominal",
          "legend": null,
          "scale": {
            "domain": ["orange", "red", "white", "cyan", "green", "entry"],
            "range": ["#ff9800", "#f23645", "#ffffff", "#00bcd4", "#089981", "#787b86"]
          }
        },
        "strokeWidth": {"value": 2}
      }
    },
    {
      "data": {"values": [
        {"t": "2026-02-23T16:54:36Z", "t2": "2026-02-27T20:58:00Z", "p": 0.03838}
      ]},
      "mark": {"type": "rule", "stroke": "#089981", "strokeWidth": 1, "strokeDash": [2, 4], "clip": true},
      "encoding": {"x2": {"field": "t2"}}
    },
    {
      "data": {"values": [
        {"t": "2026-02-23T16:54:36Z", "t2": "2026-02-27T20:58:00Z", "p": 0.03839}
      ]},
      "mark": {"type": "rule", "stroke": "#4a35c4", "strokeWidth": 1, "strokeDash": [5, 6], "clip": true},
      "encoding": {"x2": {"field": "t2"}}
    },
    {
      "data": {"values": [
        {"t": "2026-02-23T16:54:36Z", "p": 0.034},
        {"t": "2026-02-24T13:00:00Z", "p": 0.03231},
        {"t": "2026-02-25T15:33:00Z", "p": 0.038473}
      ]},
      "mark": {"type": "line", "stroke": "#787b86", "strokeWidth": 2, "clip": true},
      "encoding": {}
    },
    {
      "data": {"values": [
        {"t": "2026-02-26T00:20:00Z", "p": 0.0382, "p2": 0.0386}
      ]},
      "mark": {"type": "rule", "stroke": "#787b86", "strokeWidth": 2, "opacity": 0.7, "clip": true},
      "encoding": {"y2": {"field": "p2"}}
    },
    {
      "data": {"name": "candles"},
      "mark": {"type": "rule", "strokeWidth": 1, "clip": true},
      "encoding": {
        "y": {"field": "l", "type": "quantitative", "title": null},
        "y2": {"field": "h"},
        "color": {"condition": {"test": "datum.c >= datum.o", "value": "#089981"}, "value": "#f23645"}
      }
    },
    {
      "data": {"name": "candles"},
      "mark": {"type": "bar", "size": 3, "clip": true},
      "encoding": {
        "y": {"field": "o", "type": "quantitative", "title": null},
        "y2": {"field": "c"},
        "color": {"condition": {"test": "datum.c >= datum.o", "value": "#089981"}, "value": "#f23645"}
      }
    },
    {
      "data": {"name": "frame"},
      "mark": {"type": "rect", "fill": "#ffffff"},
      "encoding": {"x2": {"field": "t2"}, "y2": {"field": "p2"}}
    },
    {
      "data": {"values": [
        {"t": "2026-02-27T20:58:00Z", "t2": "2026-02-28T01:13:00Z", "p": 0.031788}
      ]},
      "mark": {"type": "rule", "stroke": "#ffffff", "strokeWidth": 1.5},
      "encoding": {"x2": {"field": "t2"}}
    },
    {
      "data": {"name": "tags"},
      "mark": {"type": "rect", "cornerRadius": 2},
      "encoding": {
        "x2": {"field": "t2"},
        "y2": {"field": "p2"},
        "fill": {
          "field": "tag",
          "type": "nominal",
          "legend": null,
          "scale": {"domain": ["last", "target", "entry", "stop"], "range": ["#089981", "#089981", "#787b86", "#f23645"]}
        }
      }
    },
    {
      "data": {"name": "texts"},
      "mark": {"type": "text", "align": "left", "baseline": "middle", "font": "Roboto", "fontSize": 15},
      "encoding": {
        "text": {"field": "label"},
        "color": {
          "field": "role",
          "type": "nominal",
          "legend": null,
          "scale": {
            "domain": ["ink", "up", "lime", "rose", "white", "pale"],
            "range": ["#131722", "#089981", "#00e676", "#ff5252", "#ffffff", "#cdeae4"]
          }
        }
      }
    },
    {
      "data": {"values": [{"t": "2026-02-23T19:43:00Z", "p": 0.03111, "label": "TradingView"}]},
      "mark": {"type": "text", "align": "left", "baseline": "middle", "font": "Inter", "fontWeight": 600, "fontSize": 25, "color": "#000000"},
      "encoding": {"text": {"field": "label"}}
    },
    {
      "data": {"values": [{"t": "2026-02-23T18:06:36Z", "p": 0.03111}]},
      "mark": {
        "type": "point",
        "filled": true,
        "opacity": 1,
        "color": "#000000",
        "size": 6084,
        "shape": "M-0.111 0.25H-0.306V-0.056H-0.5V-0.25H-0.111ZM0.278 0.25H0.056L0.264 -0.25H0.486ZM-0.055 -0.139a0.111 0.111 0 1 0 0.222 0a0.111 0.111 0 1 0 -0.222 0Z"
      },
      "encoding": {}
    },
    {
      "data": {"values": [{"t": "2026-02-27T16:14:00Z", "p": 0.031006, "label": "@ Aadi A1000x"}]},
      "mark": {"type": "text", "align": "left", "baseline": "middle", "font": "Roboto", "fontSize": 24, "color": "#bdbdbd"},
      "encoding": {"text": {"field": "label"}}
    },
    {
      "data": {"values": [{"t": "2026-02-27T15:10:00Z", "p": 0.031006}]},
      "mark": {"type": "point", "shape": "diamond", "size": 260, "stroke": "#c4c4c4", "strokeWidth": 2, "filled": false},
      "encoding": {}
    }
  ]
}
